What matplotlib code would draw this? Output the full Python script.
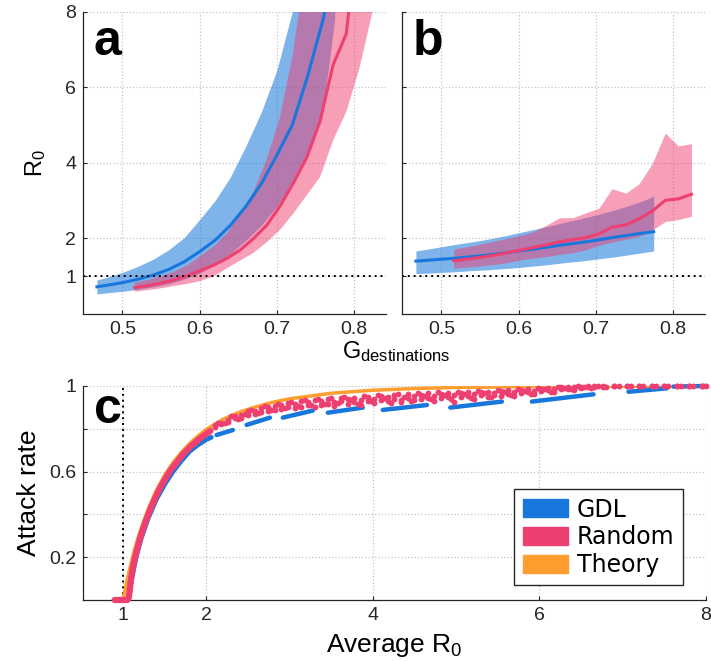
import matplotlib
matplotlib.use('Agg')
import matplotlib.pyplot as plt
from matplotlib.patches import Patch

plt.rcParams['font.family'] = ['Liberation Sans', 'DejaVu Sans']
plt.rcParams['mathtext.fontset'] = 'custom'
plt.rcParams['mathtext.rm'] = 'Liberation Sans'
plt.rcParams['mathtext.it'] = 'Liberation Sans:italic'

BLUE = '#1777DC'
PINK = '#EE4070'
ORANGE = '#FF9D2E'
DARK = '#262626'

# ---- panels a / b : R0 vs G_destinations ----
gdl_g = [0.467, 0.48, 0.50, 0.52, 0.54, 0.56, 0.58, 0.60, 0.62, 0.64,
         0.66, 0.68, 0.70, 0.72, 0.74, 0.76, 0.775]
rand_g = [0.516, 0.533, 0.550, 0.567, 0.585, 0.602, 0.619, 0.636, 0.653, 0.670,
          0.687, 0.704, 0.721, 0.739, 0.756, 0.773, 0.790, 0.807, 0.824]

# panel a
a_gdl_mean = [0.72, 0.76, 0.83, 0.92, 1.03, 1.18, 1.38, 1.65, 1.95, 2.35,
              2.85, 3.45, 4.2, 5.0, 6.3, 7.8, 9.2]
a_gdl_low = [0.53, 0.56, 0.60, 0.65, 0.72, 0.80, 0.92, 1.08, 1.30, 1.60,
             1.95, 2.35, 2.85, 3.45, 4.2, 5.4, 7.8]
a_gdl_high = [0.90, 0.97, 1.10, 1.26, 1.45, 1.70, 2.02, 2.5, 3.0, 3.63,
              4.45, 5.35, 6.45, 8.0, 9.8, 12.0, 14.0]
a_rand_mean = [0.70, 0.75, 0.82, 0.90, 1.02, 1.16, 1.30, 1.48, 1.70, 2.00,
               2.35, 2.85, 3.45, 4.15, 5.10, 6.60, 7.42, 10.5, 14.0]
a_rand_low = [0.59, 0.63, 0.68, 0.74, 0.80, 0.88, 1.00, 1.22, 1.42, 1.62,
              1.90, 2.22, 2.65, 3.15, 3.62, 4.60, 5.35, 6.50, 8.0]
a_rand_high = [0.83, 0.90, 1.00, 1.12, 1.30, 1.55, 1.80, 2.15, 2.65, 3.25,
               4.10, 5.20, 6.90, 9.5, 12.0, 14.0, 16.0, 18.0, 20.0]

# panel b
b_gdl_mean = [1.40, 1.42, 1.45, 1.48, 1.52, 1.56, 1.61, 1.67, 1.72, 1.78,
              1.84, 1.89, 1.95, 2.02, 2.08, 2.14, 2.18]
b_gdl_low = [1.07, 1.08, 1.10, 1.12, 1.15, 1.17, 1.20, 1.23, 1.27, 1.31,
             1.36, 1.40, 1.45, 1.50, 1.56, 1.62, 1.67]
b_gdl_high = [1.67, 1.71, 1.78, 1.85, 1.91, 1.98, 2.06, 2.15, 2.24, 2.33,
              2.43, 2.52, 2.62, 2.73, 2.85, 2.99, 3.12]
b_rand_mean = [1.41, 1.45, 1.50, 1.55, 1.62, 1.69, 1.76, 1.83, 1.91, 1.97,
               2.02, 2.12, 2.30, 2.36, 2.52, 2.72, 3.01, 3.05, 3.17]
b_rand_low = [1.21, 1.24, 1.27, 1.31, 1.36, 1.43, 1.48, 1.52, 1.58, 1.62,
              1.70, 1.82, 1.90, 1.98, 2.05, 2.22, 2.45, 2.50, 2.59]
b_rand_high = [1.72, 1.78, 1.85, 1.92, 2.00, 2.08, 2.18, 2.35, 2.55, 2.55,
               2.68, 2.80, 3.32, 3.20, 3.45, 3.98, 4.79, 4.45, 4.51]

# ---- panel c : attack rate vs average R0 ----
theory_r0 = [1.0, 1.05, 1.1, 1.15, 1.2, 1.3, 1.4, 1.5, 1.6, 1.7, 1.8, 1.9, 2.0,
             2.2, 2.4, 2.6, 2.8, 3.0, 3.5, 4.0, 4.5, 5.0, 6.0, 7.0, 8.0]
theory_ar = [0.0, 0.094, 0.176, 0.25, 0.314, 0.423, 0.511, 0.583, 0.641, 0.689,
             0.731, 0.766, 0.797, 0.844, 0.878, 0.903, 0.924, 0.940, 0.966,
             0.980, 0.988, 0.993, 0.9975, 0.9991, 0.9997]

gdl_curve_r0 = [0.9, 1.06, 1.08, 1.10, 1.13, 1.17, 1.22, 1.30, 1.40, 1.50,
                1.60, 1.70, 1.80, 1.90, 2.00, 2.06]
gdl_curve_ar = [0.0, 0.0, 0.04, 0.09, 0.15, 0.22, 0.29, 0.38, 0.47, 0.54,
                0.60, 0.65, 0.695, 0.725, 0.75, 0.76]
gdl_dash_r0_start = [2.125, 2.485, 2.92, 3.46, 4.12, 4.93, 5.91, 7.07, 7.61]
gdl_dash_r0_end = [2.32, 2.765, 3.28, 3.88, 4.65, 5.55, 6.65, 7.53, 8.0]
gdl_dash_ar_start = [0.771, 0.818, 0.852, 0.875, 0.888, 0.899, 0.927, 0.973, 0.997]
gdl_dash_ar_end = [0.794, 0.852, 0.885, 0.899, 0.911, 0.927, 0.961, 0.989, 1.0]

# Random: dense part near threshold
rand_curve_r0 = [0.90, 0.95, 1.00, 1.05, 1.07, 1.08, 1.09, 1.10, 1.12, 1.14,
                 1.17, 1.20, 1.24, 1.28, 1.33, 1.38, 1.44, 1.50, 1.57, 1.64,
                 1.72, 1.80, 1.88, 1.96, 2.05]
rand_curve_ar = [0.0, 0.0, 0.0, 0.0, 0.010, 0.040, 0.075, 0.105, 0.150, 0.190,
                 0.235, 0.280, 0.330, 0.375, 0.425, 0.470, 0.520, 0.560, 0.605, 0.640,
                 0.680, 0.712, 0.740, 0.765, 0.790]
# Random: scattered realisations
rand_scatter_r0 = [2.10, 2.18, 2.26, 2.34, 2.42, 2.50, 2.58, 2.66, 2.74, 2.82,
                   2.90, 2.98, 3.06, 3.14, 3.22, 3.30, 3.38, 3.46, 3.54, 3.62,
                   3.70, 3.78, 3.86, 3.94, 4.02, 4.10, 4.18, 4.26, 4.34, 4.42,
                   4.50, 4.58, 4.66, 4.74, 4.82, 4.90, 4.98, 5.06, 5.14, 5.22,
                   5.30, 5.38, 5.46, 5.54, 5.62, 5.70, 5.78, 5.86, 5.94, 6.02,
                   6.10, 6.18, 6.26, 6.34, 6.42, 6.50, 6.58, 6.66, 6.76, 6.90,
                   7.05, 7.20, 7.35, 7.50, 7.65, 7.80, 7.95]
rand_scatter_ar1 = [0.806, 0.828, 0.842, 0.849, 0.866, 0.862, 0.884, 0.876, 0.900, 0.889,
                    0.912, 0.901, 0.918, 0.904, 0.925, 0.934, 0.912, 0.939, 0.905, 0.931,
                    0.918, 0.946, 0.912, 0.950, 0.938, 0.955, 0.930, 0.958, 0.936, 0.962,
                    0.934, 0.959, 0.946, 0.930, 0.962, 0.950, 0.925, 0.966, 0.953, 0.940,
                    0.970, 0.948, 0.965, 0.976, 0.962, 0.955, 0.982, 0.970, 0.962, 0.988,
                    0.980, 0.972, 0.993, 0.988, 0.982, 0.997, 0.993, 0.998, 1.0, 0.999,
                    1.0, 1.0, 0.999, 1.0, 1.0, 1.0, 1.0]
rand_scatter_ar2 = [0.818, 0.820, 0.832, 0.860, 0.852, 0.881, 0.870, 0.896, 0.884, 0.908,
                    0.894, 0.920, 0.895, 0.928, 0.909, 0.903, 0.930, 0.916, 0.926, 0.944,
                    0.938, 0.925, 0.933, 0.928, 0.921, 0.934, 0.947, 0.940, 0.924, 0.945,
                    0.952, 0.941, 0.966, 0.955, 0.944, 0.969, 0.958, 0.948, 0.972, 0.962,
                    0.956, 0.974, 0.957, 0.952, 0.980, 0.971, 0.966, 0.985, 0.978, 0.975,
                    0.991, 0.986, 0.984, 0.996, 0.994, 0.990, 0.999, 0.994, 0.997, 1.0,
                    0.998, 0.999, 1.0, 1.0, 0.999, 1.0, 1.0]
rand_scatter_r0_mid = [2.14, 2.22, 2.30, 2.38, 2.46, 2.54, 2.62, 2.70, 2.78, 2.86,
                       2.94, 3.02, 3.10, 3.18, 3.26, 3.34, 3.42, 3.50, 3.58, 3.66,
                       3.74, 3.82, 3.90, 3.98, 4.06, 4.14, 4.22, 4.30, 4.38, 4.46,
                       4.54, 4.62, 4.70, 4.78, 4.86, 4.94, 5.02, 5.10, 5.18, 5.26,
                       5.34, 5.42, 5.50, 5.58, 5.66, 5.74, 5.82, 5.90, 5.98, 6.06,
                       6.14, 6.22, 6.30, 6.38, 6.46, 6.54, 6.62, 6.70, 6.80, 6.95,
                       7.10, 7.25, 7.40, 7.55, 7.70, 7.85, 8.00]
rand_scatter_ar_mid = [0.826, 0.829, 0.858, 0.844, 0.871, 0.886, 0.875, 0.905, 0.889, 0.915,
                       0.899, 0.924, 0.906, 0.935, 0.913, 0.940, 0.918, 0.944, 0.920, 0.947,
                       0.936, 0.914, 0.952, 0.930, 0.958, 0.944, 0.920, 0.962, 0.950, 0.931,
                       0.965, 0.955, 0.940, 0.970, 0.958, 0.937, 0.974, 0.962, 0.945, 0.977,
                       0.966, 0.950, 0.980, 0.970, 0.958, 0.985, 0.976, 0.962, 0.990, 0.984,
                       0.972, 0.995, 0.990, 0.984, 0.998, 0.995, 0.990, 1.0, 0.996, 1.0,
                       0.999, 1.0, 1.0, 0.999, 1.0, 1.0, 1.0]


def style_axes(ax, labelsize=14):
    for side in ['top', 'right']:
        ax.spines[side].set_visible(False)
    for side in ['left', 'bottom']:
        ax.spines[side].set_color(DARK)
        ax.spines[side].set_linewidth(0.9)
    ax.tick_params(direction='in', length=3, width=0.8, colors=DARK,
                   labelsize=labelsize, pad=5)
    ax.grid(True, linestyle=':', color='#c4c4c4', linewidth=0.9)
    ax.set_axisbelow(True)


def draw_panel(ax, gdl_mean, gdl_low, gdl_high, rand_mean, rand_low, rand_high):
    ax.fill_between(gdl_g, gdl_low, gdl_high, color=BLUE, alpha=0.55, lw=0)
    ax.plot(gdl_g, gdl_mean, color=BLUE, lw=2.2)
    ax.fill_between(rand_g, rand_low, rand_high, color=PINK, alpha=0.5, lw=0)
    ax.plot(rand_g, rand_mean, color=PINK, lw=2.2)
    ax.axhline(1, color='k', ls=(0, (1, 2)), lw=1.4)
    ax.set_xlim(0.449, 0.8415)
    ax.set_ylim(0, 8)
    ax.set_xticks([0.5, 0.6, 0.7, 0.8])
    ax.set_yticks([1, 2, 4, 6, 8])
    style_axes(ax)


fig = plt.figure(figsize=(7.11, 6.61), dpi=100)
ax_a = fig.add_axes([0.1167, 0.525, 0.4262, 0.4569])
ax_b = fig.add_axes([0.5654, 0.525, 0.4262, 0.4569])
ax_c = fig.add_axes([0.1167, 0.0923, 0.8762, 0.3238])

draw_panel(ax_a, a_gdl_mean, a_gdl_low, a_gdl_high, a_rand_mean, a_rand_low, a_rand_high)
draw_panel(ax_b, b_gdl_mean, b_gdl_low, b_gdl_high, b_rand_mean, b_rand_low, b_rand_high)
ax_b.set_yticklabels([])
ax_a.set_ylabel(r'$\mathregular{R_0}$', fontsize=17, labelpad=12)
fig.text(0.557, 0.458, r'$\mathregular{G_{destinations}}$', fontsize=17,
         ha='center', va='baseline')

ax_a.text(0.035, 0.858, 'a', transform=ax_a.transAxes, fontsize=36,
          fontweight='bold', va='baseline')
ax_b.text(0.035, 0.858, 'b', transform=ax_b.transAxes, fontsize=36,
          fontweight='bold', va='baseline')

# panel c
ax_c.plot(theory_r0, theory_ar, color=ORANGE, lw=2.5, zorder=2)
ax_c.plot(gdl_curve_r0, gdl_curve_ar, color=BLUE, lw=3.5, zorder=3,
          solid_capstyle='round', clip_on=False)
for x0, x1, y0, y1 in zip(gdl_dash_r0_start, gdl_dash_r0_end,
                          gdl_dash_ar_start, gdl_dash_ar_end):
    ax_c.plot([x0, x1], [y0, y1], color=BLUE, lw=3.2, zorder=3,
              solid_capstyle='round', clip_on=False)
ax_c.plot(rand_curve_r0, rand_curve_ar, color=PINK, lw=4.5, zorder=4,
          solid_capstyle='round', clip_on=False)
for xs, ys in [(rand_scatter_r0, rand_scatter_ar1), (rand_scatter_r0, rand_scatter_ar2),
               (rand_scatter_r0_mid, rand_scatter_ar_mid)]:
    ax_c.plot(xs, ys, 'o', color=PINK, ms=4.2, mew=0, zorder=4, clip_on=False)
ax_c.axvline(1, color='k', ls=(0, (1, 2)), lw=1.4, zorder=1)

ax_c.set_xlim(0.52, 8)
ax_c.set_ylim(0, 1)
ax_c.set_xticks([1, 2, 4, 6, 8])
ax_c.set_yticks([0.2, 0.4, 0.6, 0.8, 1.0])
ax_c.set_yticklabels(['0.2', '', '0.6', '', '1'])
style_axes(ax_c, labelsize=14)
ax_c.set_xlabel(r'$\mathregular{Average\ R_0}$', fontsize=19, labelpad=6)
ax_c.set_ylabel('Attack rate', fontsize=19, labelpad=6)
ax_c.text(0.018, 0.827, 'c', transform=ax_c.transAxes, fontsize=36,
          fontweight='bold', va='baseline', zorder=6)

handles = [Patch(color=BLUE, label='GDL'), Patch(color=PINK, label='Random'),
           Patch(color=ORANGE, label='Theory')]
leg = ax_c.legend(handles=handles, loc='lower right', bbox_to_anchor=(0.963, 0.07),
                  borderaxespad=0, prop={'family': 'DejaVu Sans', 'size': 17},
                  fancybox=False, framealpha=1, edgecolor=DARK,
                  handlelength=1.9, handleheight=0.8, handletextpad=0.4,
                  labelspacing=0.15, borderpad=0.35)
leg.get_frame().set_linewidth(1.0)

fig.savefig('out.png', dpi=100)
